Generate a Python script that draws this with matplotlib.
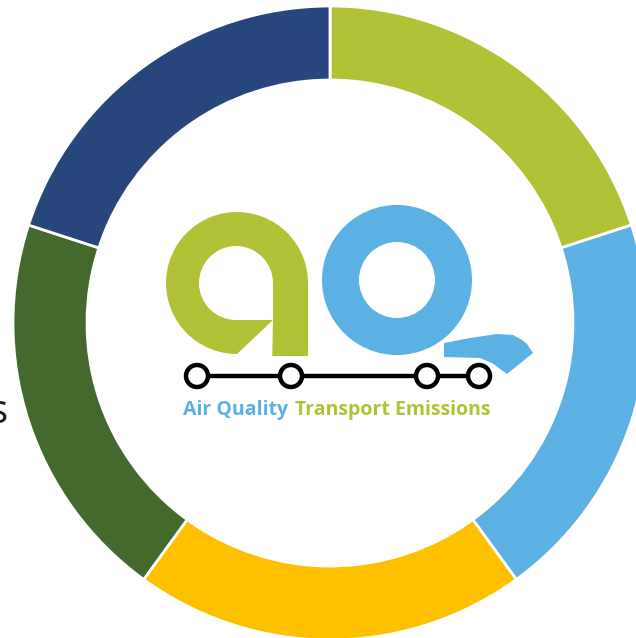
"""Donut ring with the AQ transport emissions logo in the middle."""

import matplotlib

matplotlib.use("Agg")
import matplotlib.pyplot as plt
from matplotlib.patches import Circle, Polygon, Rectangle

# ring segments, clockwise from 12 o'clock
segment_names = ["A", "B", "C", "D", "E"]
segment_values = [1, 1, 1, 1, 1]
segment_colors = ["#B2C236", "#5BB1E4", "#FFC000", "#43692C", "#27467B"]

logo_words = ["Air Quality", "Transport Emissions"]
edge_label = "s"

GREEN = "#B2C236"
BLUE = "#5BB1E4"
WIDTH, HEIGHT = 636, 638


def py(y):
    # reference measured in pixels from the top
    return HEIGHT - y


fig = plt.figure(figsize=(WIDTH / 100, HEIGHT / 100), dpi=100)
ax = fig.add_axes([0, 0, 1, 1])

ax.pie(
    segment_values,
    colors=segment_colors,
    startangle=90,
    counterclock=False,
    radius=317,
    center=(330, py(323)),
    wedgeprops=dict(width=74, edgecolor="white", linewidth=2),
)

# "a": bowl + stem, then white cut-outs
ax.add_patch(Circle((237, py(283)), 71, color=GREEN, lw=0))
ax.add_patch(Rectangle((272, py(356)), 36, 75, color=GREEN, lw=0))
ax.add_patch(Circle((236, py(283)), 37, color="white", lw=0))
ax.add_patch(Rectangle((236, py(320)), 37, 37, color="white", lw=0))
ax.add_patch(Polygon([(273, py(320)), (237, py(354)), (237, py(370)), (272, py(370))],
                     closed=True, color="white", lw=0))

# "o" ring and its tail
ax.add_patch(Circle((397, py(280)), 75, color=BLUE, lw=0))
ax.add_patch(Circle((397, py(280)), 38, color="white", lw=0))
tail = [(444, 343), (470, 338), (497, 334), (513, 335), (522, 340), (527, 344),
        (533, 353), (507, 374), (492, 363), (480, 358), (444, 357)]
ax.add_patch(Polygon([(x, py(y)) for x, y in tail], closed=True, color=BLUE, lw=0))

# track line with stations
ax.plot([185, 492], [py(376), py(376)], color="black", lw=3.2, solid_capstyle="butt", zorder=4)
for sx in [197, 291, 427, 479]:
    ax.add_patch(Circle((sx, py(376)), 11, facecolor="white", edgecolor="black", lw=3.2, zorder=5))

ax.text(288, py(415), logo_words[0], color=BLUE, fontsize=14, fontweight="bold",
        family="Open Sans", ha="right", va="baseline")
ax.text(295, py(415), logo_words[1], color=GREEN, fontsize=14, fontweight="bold",
        family="Open Sans", ha="left", va="baseline")

ax.text(8, py(423), edge_label, color="#1a1a1a", fontsize=29, family="Open Sans",
        ha="right", va="baseline")

ax.set_xlim(0, WIDTH)
ax.set_ylim(0, HEIGHT)
ax.set_aspect("equal")
ax.set_axis_off()

fig.savefig("out.png", dpi=100, facecolor="white")
